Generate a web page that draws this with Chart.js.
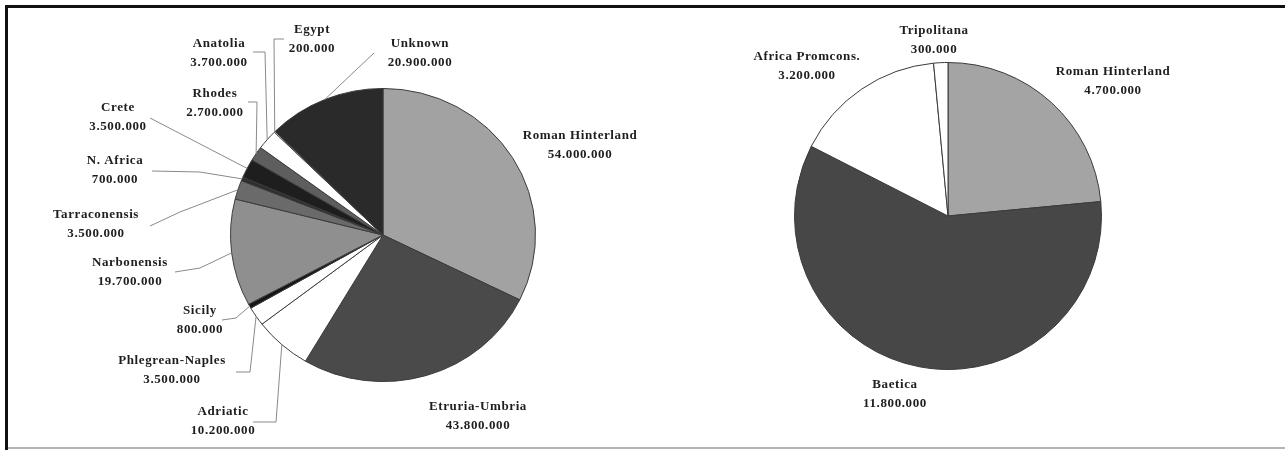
<!DOCTYPE html>
<html>
<head>
<meta charset="utf-8">
<script src="https://cdn.jsdelivr.net/npm/chart.js@4.4.1/dist/chart.umd.min.js"></script>
<style>
  html, body { margin: 0; padding: 0; background: #fff; }
  #page { position: relative; width: 1285px; height: 450px; overflow: hidden; }
  canvas { position: absolute; left: 0; top: 0; }
  .edge { position: absolute; }
</style>
</head>
<body>
<div id="page">
  <div class="edge" style="left:5px;top:5px;width:1280px;height:3px;background:#111;"></div>
  <div class="edge" style="left:5px;top:5px;width:3px;height:445px;background:#111;"></div>
  <div class="edge" style="left:8px;top:447px;width:1277px;height:2px;background:#b4b4b4;"></div>
  <canvas id="leftPie" width="1285" height="450"></canvas>
  <canvas id="rightPie" width="1285" height="450"></canvas>
</div>
<script>
// left pie: Italy-wide origins
const leftCategories = [
  "Roman Hinterland", "Etruria-Umbria", "Adriatic", "Phlegrean-Naples", "Sicily",
  "Narbonensis", "Tarraconensis", "N. Africa", "Crete", "Rhodes", "Anatolia", "Egypt", "Unknown"
];
const leftValues = [
  54000000, 43800000, 10200000, 3500000, 800000,
  19700000, 3500000, 700000, 3500000, 2700000, 3700000, 200000, 20900000
];
const leftColors = [
  "#a2a2a2", "#4a4a4a", "#ffffff", "#ffffff", "#151515",
  "#8f8f8f", "#6a6a6a", "#2e2e2e", "#1e1e1e", "#5e5e5e", "#ffffff", "#f4f4f4", "#2a2a2a"
];

// right pie
const rightCategories = ["Roman Hinterland", "Baetica", "Africa Promcons.", "Tripolitana"];
const rightValues = [4700000, 11800000, 3200000, 300000];
const rightColors = ["#a4a4a4", "#474747", "#ffffff", "#ffffff"];

// label placement (page px): text centre x, first line y, leader elbow points
const leftLabelLayout = [
  { x: 580, y: 136 },
  { x: 478, y: 407 },
  { x: 223, y: 412, path: [[253, 422], [276, 422]] },
  { x: 172, y: 361, path: [[236, 372], [250, 372]] },
  { x: 200, y: 311, path: [[222, 320], [236, 318]] },
  { x: 130, y: 263, path: [[175, 272], [200, 268]] },
  { x: 96, y: 215, path: [[150, 226], [180, 212]] },
  { x: 115, y: 161, path: [[152, 171], [200, 172]] },
  { x: 118, y: 108, path: [[150, 118]] },
  { x: 215, y: 94, path: [[248, 102], [257, 102]] },
  { x: 219, y: 44, path: [[253, 52], [265, 52]] },
  { x: 312, y: 30, path: [[284, 39], [274, 39]] },
  { x: 420, y: 44, path: [[374, 53]] }
];
const rightLabelLayout = [
  { x: 1113, y: 72 },
  { x: 895, y: 385 },
  { x: 807, y: 57 },
  { x: 934, y: 31 }
];

function fmt(v) {
  return String(v).replace(/\B(?=(\d{3})+(?!\d))/g, ".");
}

// squash the pie a little vertically and draw labels with leader lines
const calloutPlugin = {
  id: "callouts",
  beforeDatasetsDraw(chart, args, opts) {
    const arc = chart.getDatasetMeta(0).data[0];
    const ctx = chart.ctx;
    ctx.save();
    ctx.translate(arc.x, arc.y);
    ctx.scale(1, opts.squash);
    ctx.translate(-arc.x, -arc.y);
  },
  afterDatasetsDraw(chart, args, opts) {
    const ctx = chart.ctx;
    ctx.restore();
    const meta = chart.getDatasetMeta(0);
    ctx.save();
    ctx.font = "bold 13px 'Liberation Serif', 'Times New Roman', serif";
    ctx.letterSpacing = "0.6px";
    ctx.textAlign = "center";
    ctx.textBaseline = "middle";
    meta.data.forEach((el, i) => {
      const lay = opts.layout[i];
      if (!lay) return;
      if (lay.path) {
        const mid = (el.startAngle + el.endAngle) / 2;
        const ex = el.x + Math.cos(mid) * el.outerRadius;
        const ey = el.y + Math.sin(mid) * el.outerRadius * opts.squash;
        ctx.strokeStyle = "#8a8a8a";
        ctx.lineWidth = 1;
        ctx.beginPath();
        lay.path.forEach((p, k) => (k ? ctx.lineTo(p[0], p[1]) : ctx.moveTo(p[0], p[1])));
        ctx.lineTo(ex, ey);
        ctx.stroke();
      }
      ctx.fillStyle = "#1e1e1e";
      ctx.fillText(chart.data.labels[i], lay.x, lay.y);
      ctx.fillText(fmt(chart.data.datasets[0].data[i]), lay.x, lay.y + 19);
    });
    ctx.restore();
  }
};

function makePie(id, labels, values, colors, padding, layout, squash) {
  return new Chart(document.getElementById(id), {
    type: "pie",
    data: {
      labels,
      datasets: [{
        data: values,
        backgroundColor: colors,
        borderColor: "#3a3a3a",
        borderWidth: 1
      }]
    },
    options: {
      responsive: false,
      animation: false,
      layout: { padding },
      plugins: {
        legend: { display: false },
        tooltip: { enabled: false },
        callouts: { layout, squash }
      }
    },
    plugins: [calloutPlugin]
  });
}

makePie("leftPie", leftCategories, leftValues, leftColors,
  { left: 230, right: 749, top: 82, bottom: 62 }, leftLabelLayout, 0.961);
makePie("rightPie", rightCategories, rightValues, rightColors,
  { left: 794, right: 183, top: 62, bottom: 80 }, rightLabelLayout, 1);
</script>
</body>
</html>
